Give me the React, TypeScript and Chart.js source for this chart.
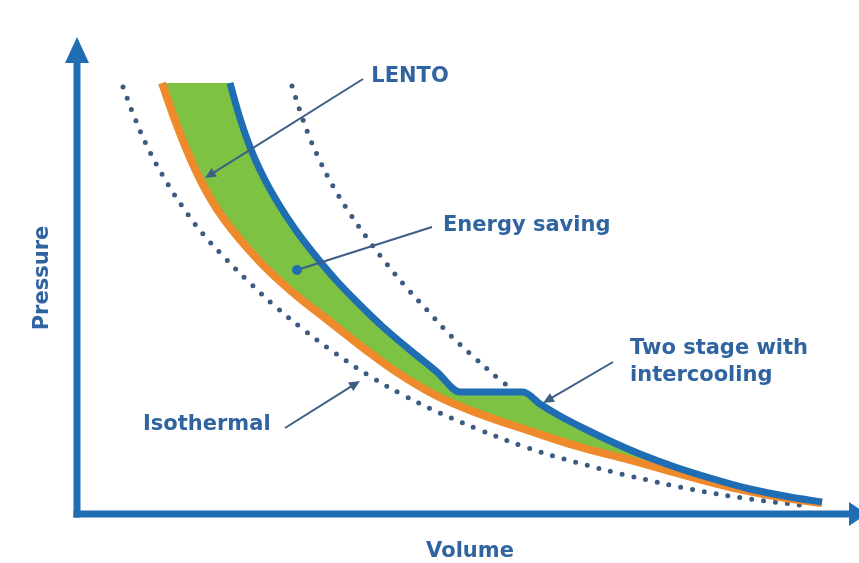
import React, { useEffect, useRef } from "react";
import { Chart, registerables } from "chart.js";

Chart.register(...registerables);

// ---- data (arbitrary units: volume →, pressure ↑) ----
const volTwoStage = [153, 162, 173, 186, 201, 218, 237, 258, 281, 306, 333, 360, 383, 446, 463, 483, 508, 533, 563, 598, 633, 673, 713, 745];
const presTwoStage = [431, 399, 367, 338, 311, 285, 260, 235, 211, 187, 164, 142, 122, 122, 110, 98, 85, 73, 60, 47, 36, 25, 17, 12];

const volLento = [85, 98, 111, 126, 144, 166, 191, 220, 252, 285, 321, 360, 403, 453, 503, 553, 603, 653, 703, 745];
const presLento = [431, 394, 361, 329, 299, 271, 244, 218, 193, 167, 141, 118, 100, 83, 67, 54, 40, 27, 17, 11];

const volIsothermal = [46, 57, 70, 86, 105, 126, 149, 173, 199, 227, 258, 291, 326, 363, 403, 448, 498, 553, 613, 673, 723];
const presIsothermal = [427, 398, 368, 338, 308, 280, 255, 231, 207, 184, 161, 139, 119, 101, 84, 67, 52, 38, 25, 15, 9];

const volSingleStage = [215, 223, 232, 243, 256, 272, 290, 309, 329, 350, 373, 398, 423, 436];
const presSingleStage = [428, 403, 378, 353, 328, 302, 276, 251, 227, 204, 179, 156, 134, 125];

const VOL_MAX = 780;
const PRES_MAX = 479;

const axisTitles = { x: "Volume", y: "Pressure" };

// annotations (positions in data units)
const lentoText = { text: "LENTO", x: 333, y: 437 };
const lentoArrow = { from: [286, 435], to: [128, 336] };
const savingText = { text: "Energy saving", x: 366, y: 288 };
const savingPointer = { from: [355, 287], to: [220, 244] };
const twoStageLines = ["Two stage with", "intercooling"];
const twoStageText = { x: 553, y: [165, 138] };
const twoStageArrow = { from: [536, 152], to: [466, 111] };
const isoText = { text: "Isothermal", x: 66, y: 89 };
const isoArrow = { from: [208, 86], to: [283, 133] };

// ---- styles ----
const BLUE = "#1f6db2";
const ORANGE = "#ee8a2b";
const GREEN = "#7dc242";
const DOTS = "#3b5b80";
const TEXT = "#2f64a0";
const POINTER = "#3d5e85";
const FONT = 'bold 21px "DejaVu Sans", Verdana, sans-serif';

const toXY = (xs: number[], ys: number[]) => xs.map((x, i) => ({ x, y: ys[i] }));

const greenFill = {
  id: "greenFill",
  beforeDatasetsDraw(chart: any) {
    const ctx = chart.ctx;
    const area = chart.chartArea;
    const blue = chart.getDatasetMeta(0).dataset;
    const orange = chart.getDatasetMeta(1).dataset;
    if (!blue || !orange) return;
    blue.updateControlPoints(area, "x");
    orange.updateControlPoints(area, "x");
    const W = chart.width;
    const H = chart.height;
    const oP = orange.points;
    const bP = blue.points;
    ctx.save();
    ctx.beginPath();
    orange.path(ctx);
    ctx.lineTo(W, oP[oP.length - 1].y);
    ctx.lineTo(W, 0);
    ctx.lineTo(oP[0].x, 0);
    ctx.closePath();
    ctx.clip();
    ctx.beginPath();
    blue.path(ctx);
    ctx.lineTo(bP[bP.length - 1].x, H);
    ctx.lineTo(0, H);
    ctx.lineTo(0, bP[0].y);
    ctx.closePath();
    ctx.fillStyle = GREEN;
    ctx.fill();
    ctx.restore();
  },
};

function arrowHead(ctx: CanvasRenderingContext2D, x1: number, y1: number, x2: number, y2: number, len: number, half: number, color: string) {
  const a = Math.atan2(y2 - y1, x2 - x1);
  ctx.beginPath();
  ctx.moveTo(x2, y2);
  ctx.lineTo(x2 - len * Math.cos(a) + half * Math.sin(a), y2 - len * Math.sin(a) - half * Math.cos(a));
  ctx.lineTo(x2 - len * Math.cos(a) - half * Math.sin(a), y2 - len * Math.sin(a) + half * Math.cos(a));
  ctx.closePath();
  ctx.fillStyle = color;
  ctx.fill();
}

const decorations = {
  id: "decorations",
  afterDatasetsDraw(chart: any) {
    const ctx: CanvasRenderingContext2D = chart.ctx;
    const xs = chart.scales.x;
    const ys = chart.scales.y;
    const px = (v: number) => xs.getPixelForValue(v);
    const py = (v: number) => ys.getPixelForValue(v);
    const area = chart.chartArea;
    ctx.save();

    // axes with arrowheads
    const ox = px(0);
    const oy = py(0);
    ctx.strokeStyle = BLUE;
    ctx.lineWidth = 7;
    ctx.lineCap = "butt";
    ctx.beginPath();
    ctx.moveTo(ox, oy + 3.5);
    ctx.lineTo(ox, area.top + 24);
    ctx.stroke();
    arrowHead(ctx, ox, oy, ox, area.top + 2, 26, 12, BLUE);
    ctx.beginPath();
    ctx.moveTo(ox - 3.5, oy);
    ctx.lineTo(area.right - 6, oy);
    ctx.stroke();
    arrowHead(ctx, ox, oy, area.right + 10, oy, 18, 12, BLUE);

    // pointer lines
    ctx.strokeStyle = POINTER;
    ctx.lineWidth = 2;
    const drawArrow = (from: number[], to: number[]) => {
      const x1 = px(from[0]), y1 = py(from[1]), x2 = px(to[0]), y2 = py(to[1]);
      const a = Math.atan2(y2 - y1, x2 - x1);
      ctx.beginPath();
      ctx.moveTo(x1, y1);
      ctx.lineTo(x2 - 6 * Math.cos(a), y2 - 6 * Math.sin(a));
      ctx.stroke();
      arrowHead(ctx, x1, y1, x2, y2, 11, 5, POINTER);
    };
    drawArrow(lentoArrow.from, lentoArrow.to);
    drawArrow(twoStageArrow.from, twoStageArrow.to);
    drawArrow(isoArrow.from, isoArrow.to);
    ctx.beginPath();
    ctx.moveTo(px(savingPointer.from[0]), py(savingPointer.from[1]));
    ctx.lineTo(px(savingPointer.to[0]), py(savingPointer.to[1]));
    ctx.stroke();
    ctx.beginPath();
    ctx.arc(px(savingPointer.to[0]), py(savingPointer.to[1]), 5, 0, Math.PI * 2);
    ctx.fillStyle = BLUE;
    ctx.fill();

    // texts
    ctx.fillStyle = TEXT;
    ctx.font = FONT;
    ctx.textBaseline = "middle";
    ctx.textAlign = "center";
    ctx.fillText(lentoText.text, px(lentoText.x), py(lentoText.y));
    ctx.textAlign = "left";
    ctx.fillText(savingText.text, px(savingText.x), py(savingText.y));
    twoStageLines.forEach((t, i) => ctx.fillText(t, px(twoStageText.x), py(twoStageText.y[i])));
    ctx.fillText(isoText.text, px(isoText.x), py(isoText.y));

    // axis titles
    ctx.textAlign = "center";
    ctx.fillText(axisTitles.x, (area.left + area.right) / 2 + 3, area.bottom + 38);
    ctx.save();
    ctx.translate(area.left - 34, area.top + 243);
    ctx.rotate(-Math.PI / 2);
    ctx.fillText(axisTitles.y, 0, 0);
    ctx.restore();

    ctx.restore();
  },
};

export default function App() {
  const ref = useRef<HTMLCanvasElement>(null);
  useEffect(() => {
    if (!ref.current) return;
    const dotted = {
      borderColor: DOTS,
      borderWidth: 5,
      borderDash: [0, 12],
      borderCapStyle: "round",
      tension: 0.4,
      pointRadius: 0,
      fill: false,
    };
    const chart = new Chart(ref.current, {
      type: "line",
      data: {
        datasets: [
          {
            label: "Two stage with intercooling",
            data: toXY(volTwoStage, presTwoStage),
            borderColor: BLUE,
            borderWidth: 7,
            borderJoinStyle: "round",
            cubicInterpolationMode: "monotone",
            pointRadius: 0,
            fill: false,
          },
          {
            label: "LENTO",
            data: toXY(volLento, presLento),
            borderColor: ORANGE,
            borderWidth: 8,
            tension: 0.4,
            pointRadius: 0,
            fill: false,
          },
          { label: "Isothermal", data: toXY(volIsothermal, presIsothermal), ...dotted },
          { label: "Single stage", data: toXY(volSingleStage, presSingleStage), ...dotted },
        ],
      },
      options: {
        animation: false,
        responsive: true,
        maintainAspectRatio: false,
        layout: { padding: { left: 77, right: 2, top: 35, bottom: 49 } },
        plugins: { legend: { display: false }, tooltip: { enabled: false }, title: { display: false } },
        scales: {
          x: { type: "linear", min: 0, max: VOL_MAX, display: false },
          y: { type: "linear", min: 0, max: PRES_MAX, display: false },
        },
        elements: { line: { capBezierPoints: false } },
      } as any,
      plugins: [greenFill, decorations],
    });
    return () => chart.destroy();
  }, []);
  return (
    <div style={{ position: "fixed", left: 0, top: 0, width: 859, height: 563, background: "#fff" }}>
      <canvas ref={ref} />
    </div>
  );
}
